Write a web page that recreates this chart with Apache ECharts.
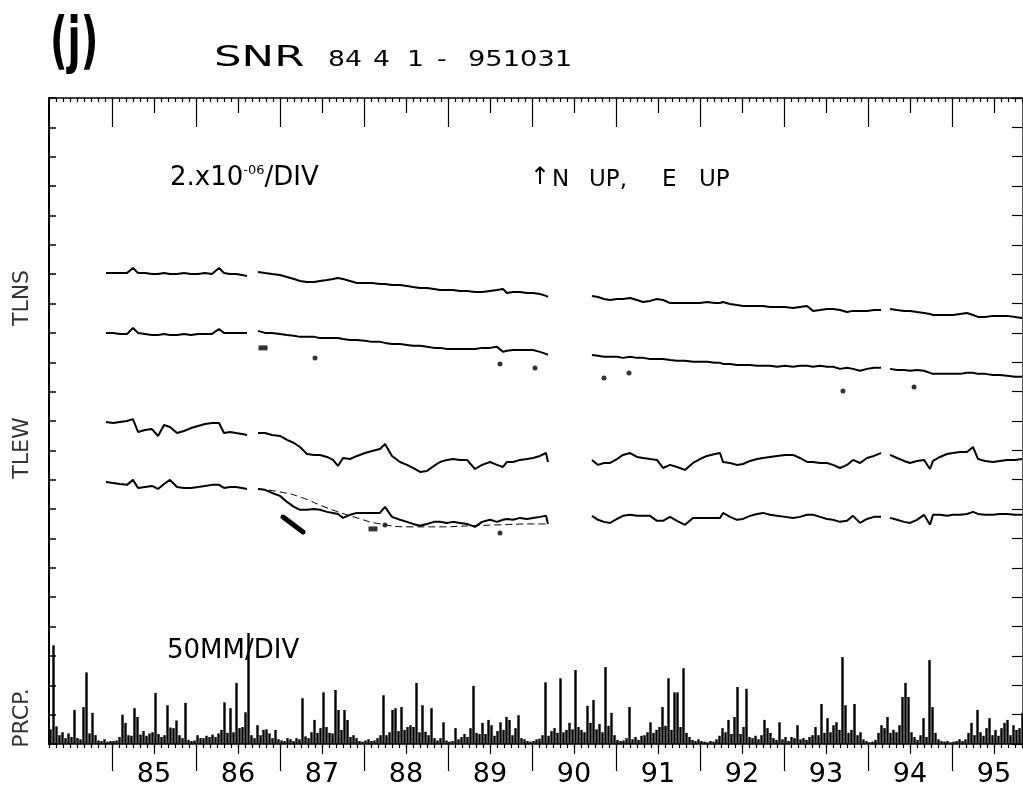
<!DOCTYPE html>
<html>
<head>
<meta charset="UTF-8">
<title>SNR tilt and precipitation</title>
<script src="https://cdn.jsdelivr.net/npm/echarts@6/dist/echarts.min.js"></script>
<style>
html, body { margin: 0; padding: 0; background: #fff; }
#main { width: 1023px; height: 795px; }
</style>
</head>
<body>
<div id="main"></div>
<script type="text/javascript">
// reading times (decimal year), one array per recording segment
var TIME = [
    [1984.929, 1985.012, 1985.095, 1985.179, 1985.250, 1985.310, 1985.393, 1985.476, 1985.548, 1985.619,
     1985.690, 1985.774, 1985.857, 1985.940, 1986.024, 1986.107, 1986.190, 1986.274, 1986.333, 1986.405,
     1986.476, 1986.548, 1986.607],
    [1986.738, 1986.821, 1986.905, 1987.000, 1987.083, 1987.167, 1987.238, 1987.321, 1987.405, 1987.476,
     1987.560, 1987.631, 1987.690, 1987.750, 1987.833, 1987.917, 1988.012, 1988.095, 1988.190, 1988.250,
     1988.333, 1988.429, 1988.512, 1988.583, 1988.667, 1988.750, 1988.833, 1988.905, 1988.988, 1989.060,
     1989.143, 1989.226, 1989.321, 1989.405, 1989.500, 1989.583, 1989.655, 1989.702, 1989.774, 1989.857,
     1989.940, 1990.012, 1990.095, 1990.167, 1990.190],
    [1990.714, 1990.786, 1990.857, 1990.929, 1991.012, 1991.083, 1991.167, 1991.250, 1991.321, 1991.405,
     1991.488, 1991.560, 1991.643, 1991.726, 1991.821, 1991.917, 1992.000, 1992.083, 1992.179, 1992.238,
     1992.274, 1992.357, 1992.440, 1992.512, 1992.595, 1992.679, 1992.750, 1992.833, 1992.917, 1993.012,
     1993.107, 1993.190, 1993.274, 1993.345, 1993.429, 1993.512, 1993.583, 1993.667, 1993.750, 1993.821,
     1993.905, 1993.988, 1994.071, 1994.155],
    [1994.262, 1994.345, 1994.429, 1994.500, 1994.583, 1994.667, 1994.738, 1994.774, 1994.857, 1994.940,
     1995.012, 1995.095, 1995.179, 1995.250, 1995.310, 1995.393, 1995.488, 1995.571, 1995.655, 1995.750,
     1995.833]
];

// tilt change, x10^-6, relative to start of record
var TLNS_1 = [
    [0, 0, 0, 0, 0.34, 0, 0, -0.07, -0.07, 0, -0.07, -0.07, 0, -0.07, -0.07, 0, -0.07, 0.34, 0, -0.07, -0.07, -0.14, -0.2],
    [0.07, 0, -0.07, -0.14, -0.27, -0.41, -0.54, -0.61, -0.61, -0.54, -0.48, -0.41, -0.34, -0.41, -0.54, -0.68, -0.68, -0.68, -0.75, -0.75,
     -0.82, -0.82, -0.88, -0.95, -1.02, -1.02, -1.09, -1.16, -1.16, -1.16, -1.22, -1.22, -1.29, -1.29, -1.22, -1.16, -1.09, -1.36, -1.29, -1.29,
     -1.36, -1.36, -1.43, -1.56, -1.63],
    [-1.56, -1.63, -1.77, -1.84, -1.77, -1.77, -1.7, -1.84, -1.97, -1.9, -1.77, -1.84, -2.04, -2.04, -2.04, -2.04, -2.04, -1.97, -2.04, -2.04,
     -1.97, -2.11, -2.18, -2.24, -2.24, -2.24, -2.24, -2.31, -2.31, -2.31, -2.38, -2.31, -2.24, -2.58, -2.52, -2.45, -2.45, -2.52, -2.65, -2.58,
     -2.58, -2.58, -2.52, -2.52],
    [-2.45, -2.52, -2.58, -2.58, -2.65, -2.72, -2.79, -2.86, -2.86, -2.86, -2.86, -2.79, -2.72, -2.86, -2.99, -2.99, -2.92, -2.92, -2.92, -2.99, -3.06]
];
var TLNS_2 = [
    [0, 0, -0.07, -0.07, 0.34, 0, -0.07, -0.14, -0.14, -0.07, -0.14, -0.14, -0.07, -0.14, -0.07, -0.07, -0.07, 0.27, 0, 0, 0, 0, 0],
    [0.14, 0, 0, -0.07, -0.14, -0.2, -0.27, -0.27, -0.27, -0.34, -0.34, -0.34, -0.34, -0.41, -0.48, -0.48, -0.54, -0.61, -0.61, -0.68,
     -0.75, -0.75, -0.82, -0.88, -0.88, -0.95, -1.02, -1.02, -1.09, -1.09, -1.09, -1.09, -1.09, -1.02, -1.02, -0.95, -1.29, -1.22, -1.16, -1.16,
     -1.16, -1.16, -1.29, -1.43, -1.5],
    [-1.5, -1.56, -1.63, -1.63, -1.63, -1.7, -1.63, -1.7, -1.7, -1.77, -1.77, -1.77, -1.84, -1.9, -1.9, -1.97, -1.97, -1.97, -2.04, -2.04,
     -2.11, -2.11, -2.18, -2.18, -2.18, -2.24, -2.24, -2.24, -2.31, -2.24, -2.31, -2.24, -2.24, -2.31, -2.24, -2.31, -2.31, -2.45, -2.38, -2.45,
     -2.58, -2.45, -2.38, -2.38],
    [-2.45, -2.52, -2.52, -2.58, -2.52, -2.58, -2.72, -2.79, -2.79, -2.79, -2.79, -2.79, -2.72, -2.72, -2.79, -2.79, -2.86, -2.86, -2.92, -2.99, -2.99]
];
var TLEW_1 = [
    [0, -0.07, 0, 0.07, 0.2, -0.68, -0.54, -0.48, -0.95, -0.2, -0.34, -0.75, -0.61, -0.41, -0.27, -0.14, -0.07, -0.07, -0.75, -0.68, -0.75, -0.82, -0.88],
    [-0.75, -0.75, -0.88, -0.95, -1.22, -1.43, -1.7, -2.18, -2.24, -2.24, -2.38, -2.58, -2.99, -2.45, -2.52, -2.31, -2.11, -1.97, -1.84, -1.5,
     -2.31, -2.72, -2.92, -3.13, -3.4, -3.33, -2.99, -2.72, -2.58, -2.52, -2.58, -2.58, -3.2, -2.92, -2.72, -2.92, -3.06, -2.72, -2.72, -2.58,
     -2.52, -2.45, -2.31, -2.11, -2.72],
    [-2.58, -2.92, -2.79, -2.79, -2.52, -2.24, -2.11, -2.38, -2.45, -2.52, -2.58, -3.13, -2.92, -3.06, -3.26, -2.79, -2.52, -2.31, -2.18, -2.11,
     -2.72, -2.79, -2.92, -2.86, -2.65, -2.52, -2.45, -2.38, -2.31, -2.24, -2.24, -2.45, -2.72, -2.72, -2.79, -2.79, -2.92, -3.13, -2.92, -2.58,
     -2.79, -2.45, -2.31, -2.11],
    [-2.24, -2.45, -2.65, -2.79, -2.65, -2.58, -3.2, -2.65, -2.38, -2.18, -2.11, -2.04, -2.04, -1.7, -2.52, -2.65, -2.72, -2.65, -2.58, -2.58, -2.52]
];
var TLEW_2 = [
    [0, -0.07, -0.14, -0.2, 0.14, -0.41, -0.34, -0.27, -0.48, -0.14, 0.14, -0.34, -0.41, -0.41, -0.34, -0.27, -0.2, -0.2, -0.41, -0.34, -0.34, -0.41, -0.48],
    [-0.48, -0.54, -0.75, -0.95, -1.36, -1.7, -1.9, -1.9, -1.84, -1.9, -2.04, -2.11, -2.18, -2.45, -2.24, -2.11, -2.11, -2.11, -2.11, -1.7,
     -2.38, -2.58, -2.72, -2.86, -2.99, -2.86, -2.72, -2.72, -2.79, -2.72, -2.79, -2.86, -3.06, -2.72, -2.58, -2.72, -2.58, -2.52, -2.58, -2.45,
     -2.52, -2.45, -2.38, -2.31, -2.86],
    [-2.31, -2.58, -2.72, -2.79, -2.52, -2.31, -2.24, -2.31, -2.31, -2.31, -2.65, -2.65, -2.38, -2.65, -2.92, -2.45, -2.45, -2.45, -2.45, -2.45,
     -2.11, -2.38, -2.58, -2.52, -2.31, -2.18, -2.11, -2.24, -2.31, -2.38, -2.45, -2.38, -2.24, -2.24, -2.38, -2.52, -2.58, -2.72, -2.65, -2.31,
     -2.79, -2.52, -2.38, -2.38],
    [-2.45, -2.58, -2.72, -2.79, -2.58, -2.24, -2.92, -2.24, -2.24, -2.31, -2.24, -2.24, -2.18, -2.04, -2.18, -2.24, -2.24, -2.18, -2.18, -2.24, -2.24]
];

// smooth curve drawn with the lower TLEW trace, 1986-1990
var FIT_TIME = [1986.738, 1987.000, 1987.238, 1987.560, 1987.917, 1988.190, 1988.548, 1988.905, 1989.262, 1989.619, 1989.976, 1990.190];
var FIT_TLEW_2 = [-0.48, -0.68, -1.02, -1.77, -2.45, -2.86, -3.06, -3.06, -2.99, -2.92, -2.86, -2.86];

// stray plotted points (chart units, x10^-6)
var DOT_TIME = [1987.417, 1989.619, 1990.036, 1990.857, 1991.155, 1993.702, 1994.548, 1988.250, 1989.619];
var DOT_VALUE = [26.29, 25.89, 25.61, 24.93, 25.27, 24.05, 24.32, 14.92, 14.37];
var BLOB_TIME = [1986.798, 1988.107];
var BLOB_VALUE = [26.98, 14.65];
var STROKE_TIME = [1987.036, 1987.274];
var STROKE_VALUE = [15.46, 14.44];

// vertical placement of each trace on the page, x10^-6 above bottom
var OFFSET_NS1 = 32.08, OFFSET_NS2 = 28.0, OFFSET_EW1 = 21.93, OFFSET_EW2 = 17.85;

// precipitation, mm per 13-day bin starting 1984 Apr 1
var PRCP_START = 1984.25;
var PRCP_BINS_PER_YEAR = 28;
var PRCP = [
    25, 168, 30, 15, 20, 10, 18, 12, 58, 10, 8, 63, 122, 18, 53, 15, 6, 5, 8, 4, 5,
    5, 6, 12, 50, 36, 15, 14, 61, 46, 16, 22, 14, 18, 20, 87, 17, 12, 15, 66, 28, 27, 40, 15, 10, 70, 7, 5, 6,
    15, 10, 10, 14, 12, 16, 12, 18, 24, 71, 19, 61, 20, 104, 27, 29, 54, 189, 15, 10, 32, 15, 24, 25, 18, 10, 24, 8,
    6, 5, 10, 8, 5, 10, 8, 78, 13, 10, 20, 41, 19, 27, 88, 29, 19, 18, 92, 58, 24, 58, 41, 12, 15, 10, 5, 4,
    6, 8, 5, 6, 10, 15, 83, 15, 20, 58, 61, 22, 63, 24, 29, 32, 29, 104, 20, 66, 21, 15, 61, 10, 6, 10, 37, 6,
    4, 5, 27, 8, 12, 17, 12, 27, 99, 19, 17, 36, 17, 41, 32, 14, 22, 37, 24, 46, 41, 15, 27, 49, 10, 8, 5, 4,
    5, 8, 9, 15, 105, 14, 22, 27, 19, 112, 20, 24, 36, 25, 126, 29, 24, 20, 65, 36, 75, 25, 34, 20, 131, 31, 53, 15,
    7, 5, 6, 10, 63, 8, 12, 7, 14, 15, 20, 37, 19, 24, 29, 63, 31, 112, 24, 88, 88, 29, 129, 19, 12, 7, 5, 8,
    5, 4, 3, 5, 4, 8, 14, 27, 20, 41, 17, 46, 97, 17, 29, 94, 12, 10, 14, 8, 15, 41, 27, 19, 10, 7, 37, 8,
    12, 5, 12, 10, 32, 8, 10, 7, 12, 15, 29, 15, 68, 19, 44, 20, 32, 37, 24, 148, 66, 19, 24, 68, 15, 20, 8, 5,
    3, 4, 7, 19, 32, 27, 46, 19, 24, 20, 32, 80, 104, 80, 20, 12, 7, 15, 44, 12, 143, 63, 19, 8, 5, 4, 5, 3,
    4, 5, 8, 5, 8, 19, 36, 15, 58, 20, 14, 27, 44, 15, 24, 14, 27, 36, 41, 15, 32, 24, 27, 53
];

var YEAR_LABELS = ['85', '86', '87', '88', '89', '90', '91', '92', '93', '94', '95'];
var FIRST_YEAR = 1985;

var X_MIN = 1984.25;        // 84 4 1
var X_MAX = 1995 + 10 / 12; // 95 10 31
var DIV = 2;                // 2.x10^-06 per division
var NDIV = 22;
var MM_PER_DIV = 50;

function traceData(segs, off) {
    var out = [];
    for (var s = 0; s < TIME.length; s++) {
        if (s > 0) {
            var prev = TIME[s - 1];
            out.push([(prev[prev.length - 1] + TIME[s][0]) / 2, '-']);
        }
        var n = Math.min(TIME[s].length, segs[s].length);
        for (var i = 0; i < n; i++) {
            out.push([TIME[s][i], segs[s][i] + off]);
        }
    }
    return out;
}

function pairs(xs, ys, off) {
    var out = [];
    for (var i = 0; i < xs.length; i++) out.push([xs[i], ys[i] + (off || 0)]);
    return out;
}

var prcpData = [];
for (var i = 0; i < PRCP.length; i++) {
    prcpData.push([PRCP_START + (i + 0.5) / PRCP_BINS_PER_YEAR, PRCP[i]]);
}

// axis tick positions
var monthTicks = [], yearTicks = [], midTicks = [];
for (var m = 0; ; m++) {
    var v = 1984 + (3 + m) / 12;
    if (v > X_MAX + 1e-6) break;
    monthTicks.push(v);
}
for (var y = 0; y < YEAR_LABELS.length; y++) {
    yearTicks.push(FIRST_YEAR + y);
    midTicks.push(FIRST_YEAR + y + 0.5);
}

var FONT = 'DejaVu Sans';
var black = '#000';

function xAx(pos, ticks, len, inside, line) {
    return {
        type: 'value', position: pos, min: X_MIN, max: X_MAX,
        axisLine: { show: !!line, onZero: false, lineStyle: { color: black, width: 1.5 } },
        axisTick: { show: true, inside: inside, length: len, customValues: ticks, lineStyle: { color: black, width: 1.2 } },
        axisLabel: { show: false },
        splitLine: { show: false }
    };
}

var bottomAxis = xAx('bottom', monthTicks, 4, false, true);
bottomAxis.axisLabel = {
    show: true,
    customValues: midTicks,
    margin: 17,
    fontFamily: FONT,
    fontSize: 27,
    color: black,
    formatter: function (val) {
        return YEAR_LABELS[Math.round(val - 0.5) - FIRST_YEAR];
    }
};

var myChart = echarts.init(document.getElementById('main'));

var option = {
    animation: false,
    backgroundColor: '#fff',
    grid: { left: 49, right: 1, top: 98, bottom: 51, containLabel: false },
    xAxis: [
        bottomAxis,
        xAx('bottom', yearTicks, 27, false, false),
        xAx('bottom', midTicks, 10, false, false),
        xAx('top', monthTicks, 4, true, true),
        xAx('top', yearTicks, 29, true, false),
        xAx('top', midTicks, 15, true, false)
    ],
    yAxis: [
        {
            type: 'value', position: 'left', min: 0, max: NDIV * DIV, interval: DIV,
            axisLine: { show: true, lineStyle: { color: black, width: 2 } },
            axisTick: { show: true, inside: true, length: 7, lineStyle: { color: black, width: 1.5 } },
            axisLabel: { show: false }, splitLine: { show: false }
        },
        {
            type: 'value', position: 'right', min: 0, max: NDIV * DIV, interval: DIV,
            axisLine: { show: true, lineStyle: { color: '#555', width: 1 } },
            axisTick: { show: true, inside: true, length: 10, lineStyle: { color: black, width: 1.2 } },
            axisLabel: { show: false }, splitLine: { show: false }
        },
        {
            type: 'value', show: false, min: 0, max: NDIV * MM_PER_DIV
        }
    ],
    series: [
        {
            name: 'PRCP', type: 'bar', xAxisIndex: 0, yAxisIndex: 2,
            data: prcpData, barWidth: 2.4, itemStyle: { color: black }
        },
        {
            name: 'TLNS 1', type: 'line', data: traceData(TLNS_1, OFFSET_NS1),
            showSymbol: false, connectNulls: false, lineStyle: { color: black, width: 2 }
        },
        {
            name: 'TLNS 2', type: 'line', data: traceData(TLNS_2, OFFSET_NS2),
            showSymbol: false, connectNulls: false, lineStyle: { color: black, width: 2 }
        },
        {
            name: 'TLEW 1', type: 'line', data: traceData(TLEW_1, OFFSET_EW1),
            showSymbol: false, connectNulls: false, lineStyle: { color: black, width: 2 }
        },
        {
            name: 'TLEW 2', type: 'line', data: traceData(TLEW_2, OFFSET_EW2),
            showSymbol: false, connectNulls: false, lineStyle: { color: black, width: 2 }
        },
        {
            name: 'TLEW 2 fit', type: 'line', data: pairs(FIT_TIME, FIT_TLEW_2, OFFSET_EW2),
            showSymbol: false, smooth: true, lineStyle: { color: black, width: 1, type: [7, 4] }
        },
        {
            name: 'stroke', type: 'line', data: pairs(STROKE_TIME, STROKE_VALUE),
            showSymbol: false, lineStyle: { color: black, width: 5, cap: 'round' }
        },
        {
            name: 'dots', type: 'scatter', data: pairs(DOT_TIME, DOT_VALUE),
            symbolSize: 5, itemStyle: { color: black }
        },
        {
            name: 'blobs', type: 'scatter', data: pairs(BLOB_TIME, BLOB_VALUE),
            symbol: 'rect', symbolSize: [9, 5], itemStyle: { color: black }
        }
    ],
    graphic: [
        { type: 'text', x: 50, y: 45, scaleX: 0.62, style: { text: '(j)', font: 'bold 62px ' + FONT, fill: black, verticalAlign: 'middle' } },
        { type: 'text', x: 214, y: 58, scaleX: 1.5, style: { text: 'SNR', font: '29px ' + FONT, fill: black, verticalAlign: 'middle' } },
        { type: 'text', x: 328, y: 61, scaleX: 1.27, style: { text: '84', font: '21px ' + FONT, fill: black, verticalAlign: 'middle' } },
        { type: 'text', x: 373, y: 61, scaleX: 1.27, style: { text: '4', font: '21px ' + FONT, fill: black, verticalAlign: 'middle' } },
        { type: 'text', x: 407, y: 61, scaleX: 1.27, style: { text: '1', font: '21px ' + FONT, fill: black, verticalAlign: 'middle' } },
        { type: 'text', x: 437, y: 61, scaleX: 1.27, style: { text: '-', font: '21px ' + FONT, fill: black, verticalAlign: 'middle' } },
        { type: 'text', x: 468, y: 61, scaleX: 1.3, style: { text: '951031', font: '21px ' + FONT, fill: black, verticalAlign: 'middle' } },
        {
            type: 'text', x: 170, y: 178,
            style: {
                text: '{a|2.x10}{s|-06}{a|/DIV}',
                verticalAlign: 'middle',
                rich: {
                    a: { font: '26px ' + FONT, fill: black, color: black },
                    s: { font: '13px ' + FONT, fill: black, color: black, verticalAlign: 'top', padding: [0, 0, 14, 0] }
                }
            }
        },
        { type: 'text', x: 530, y: 178, style: { text: '\u2191', font: '24px ' + FONT, fill: black, verticalAlign: 'middle' } },
        { type: 'text', x: 552, y: 180, style: { text: 'N', font: '23px ' + FONT, fill: black, verticalAlign: 'middle' } },
        { type: 'text', x: 589, y: 180, style: { text: 'UP,', font: '23px ' + FONT, fill: black, verticalAlign: 'middle' } },
        { type: 'text', x: 662, y: 180, style: { text: 'E', font: '23px ' + FONT, fill: black, verticalAlign: 'middle' } },
        { type: 'text', x: 699, y: 180, style: { text: 'UP', font: '23px ' + FONT, fill: black, verticalAlign: 'middle' } },
        { type: 'text', x: 167, y: 651, style: { text: '50MM/DIV', font: '26px ' + FONT, fill: black, verticalAlign: 'middle' } },
        { type: 'text', x: 22, y: 298, rotation: Math.PI / 2, style: { text: 'TLNS', font: '22px ' + FONT, fill: '#333', align: 'center', verticalAlign: 'middle' } },
        { type: 'text', x: 22, y: 448, rotation: Math.PI / 2, style: { text: 'TLEW', font: '22px ' + FONT, fill: '#333', align: 'center', verticalAlign: 'middle' } },
        { type: 'text', x: 22, y: 718, rotation: Math.PI / 2, style: { text: 'PRCP.', font: '22px ' + FONT, fill: '#333', align: 'center', verticalAlign: 'middle' } }
    ]
};

myChart.setOption(option);
</script>
</body>
</html>
